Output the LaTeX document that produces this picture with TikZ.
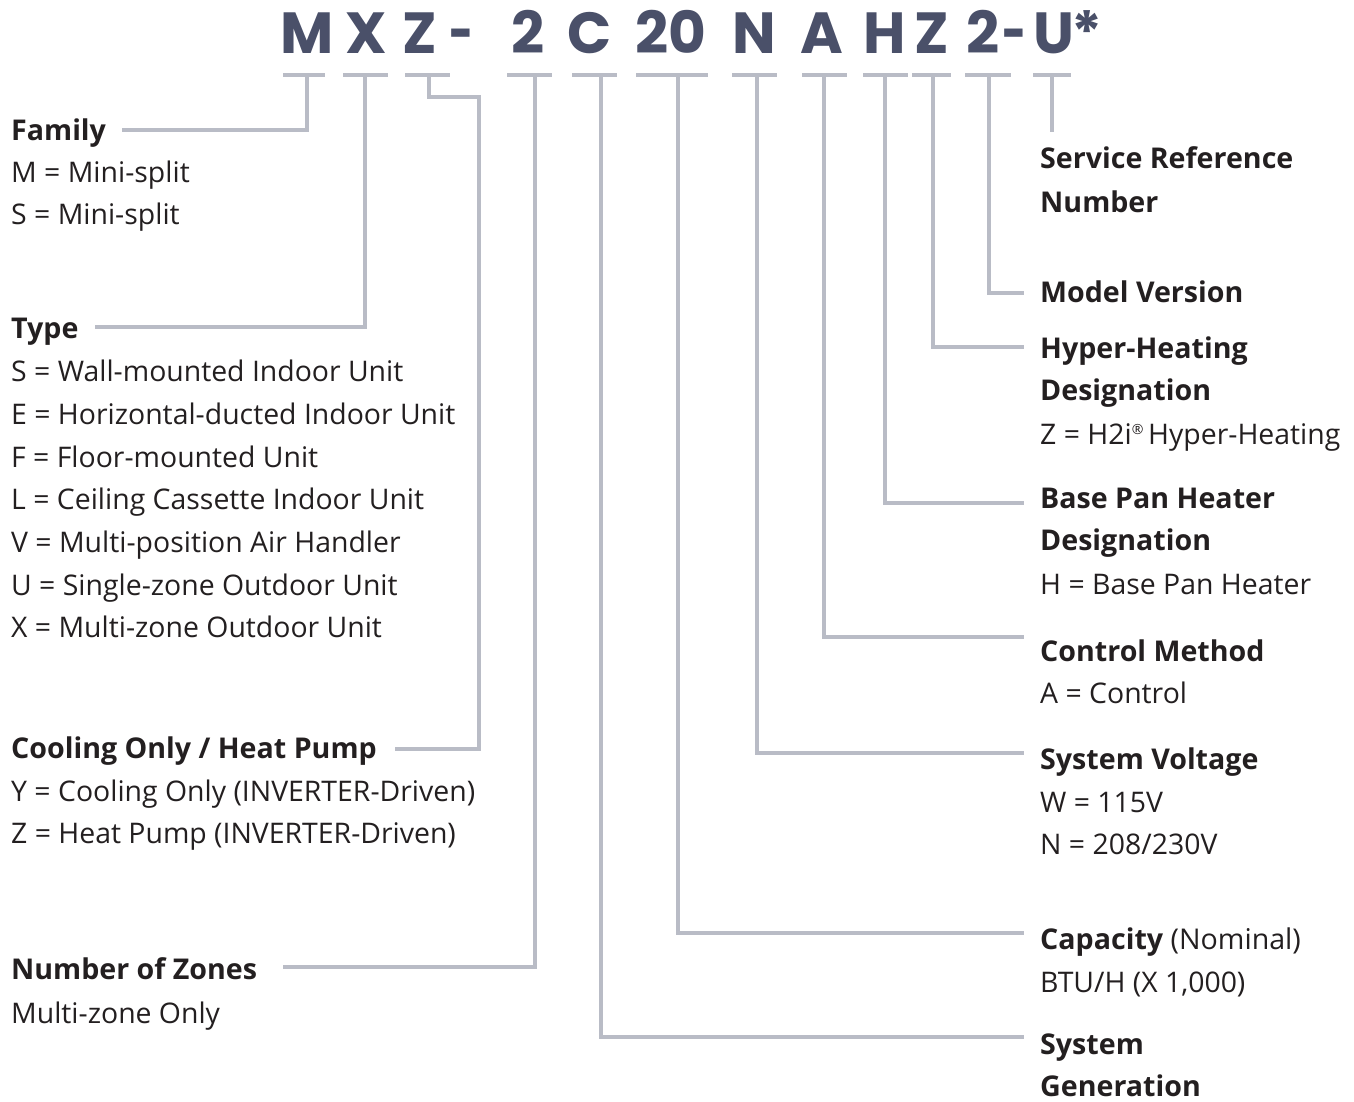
\documentclass[tikz,border=0pt]{standalone}
\usepackage{fontspec}
\usepackage{graphicx}
\setmainfont{Open Sans}
\newfontfamily\titlefam{Poppins}
\definecolor{txt}{HTML}{231F20}
\definecolor{ttlc}{HTML}{4A5069}
\definecolor{linec}{HTML}{B9BCC6}
\newcommand{\bodyf}{\fontsize{28.4}{28.4}\selectfont}
\newcommand{\headf}{\fontsize{28.6}{28.6}\selectfont\bfseries}
\newcommand{\ttlf}{\titlefam\fontsize{58}{58}\selectfont\bfseries}
\newcommand{\ttldash}{\scalebox{0.72}[1]{-}}
\tikzset{
  lbl/.style={anchor=base west, inner sep=0pt, text=txt, font=\bodyf},
  hd/.style={anchor=base west, inner sep=0pt, text=txt, font=\headf},
  ttl/.style={anchor=base, inner sep=0pt, text=ttlc, font=\ttlf},
  bar/.style={draw=linec, line width=3.5pt},
  conn/.style={draw=linec, line width=3.5pt},
}
\begin{document}
\begin{tikzpicture}[x=1pt,y=-1pt]
\useasboundingbox (0,0) rectangle (1354,1101);
% title letters
\node[ttl] (tM) at (307,53) {M};
\node[ttl] (tX) at (366,53) {X};
\node[ttl] (tZ) at (420,53) {Z};
\node[ttl] (td1) at (462,53) {\ttldash};
\node[ttl] (t2) at (528,53) {2};
\node[ttl] (tC) at (590,53) {C};
\node[ttl] (t20) at (671,53) {20};
\node[ttl] (tN) at (754,53) {N};
\node[ttl] (tA) at (822,53) {A};
\node[ttl] (tH) at (885,53) {H};
\node[ttl] (tZb) at (932,53) {Z};
\node[ttl] (t2b) at (983,53) {2};
\node[ttl] (td2) at (1015,53) {\ttldash};
\node[ttl] (tU) at (1054,53) {U};
\node[ttl] (tst) at (1087,53) {*};
% underline bars
\draw[bar] (283,75) -- (325,75);
\draw[bar] (343,75) -- (388,75);
\draw[bar] (405,75) -- (450,75);
\draw[bar] (507,75) -- (552,75);
\draw[bar] (572,75) -- (617,75);
\draw[bar] (636,75) -- (708,75);
\draw[bar] (732,75) -- (777,75);
\draw[bar] (802,75) -- (847,75);
\draw[bar] (863,75) -- (908,75);
\draw[bar] (912,75) -- (951,75);
\draw[bar] (965,75) -- (1011,75);
\draw[bar] (1033,75) -- (1071,75);
\coordinate (uM) at (307,75);
\coordinate (uX) at (365,75);
\coordinate (uZ) at (429,75);
\coordinate (u2) at (535,75);
\coordinate (uC) at (601,75);
\coordinate (u20) at (678,75);
\coordinate (uN) at (757,75);
\coordinate (uA) at (824,75);
\coordinate (uH) at (885,75);
\coordinate (uZb) at (933,75);
\coordinate (u2b) at (989,75);
\coordinate (uU) at (1052,75);
% left labels
\node[hd] (fam) at (11,140) {Family};
\node[lbl] (fam1) at (11,182) {M = Mini-split};
\node[lbl] (fam2) at (11,224) {S = Mini-split};
\node[hd] (typ) at (11,338) {Type};
\node[lbl] (typ1) at (11,381) {S = Wall-mounted Indoor Unit};
\node[lbl] (typ2) at (11,424) {E = Horizontal-ducted Indoor Unit};
\node[lbl] (typ3) at (11,467) {F = Floor-mounted Unit};
\node[lbl] (typ4) at (11,509) {L = Ceiling Cassette Indoor Unit};
\node[lbl] (typ5) at (11,552) {V = Multi-position Air Handler};
\node[lbl] (typ6) at (11,595) {U = Single-zone Outdoor Unit};
\node[lbl] (typ7) at (11,637) {X = Multi-zone Outdoor Unit};
\node[hd] (coo) at (11,758) {Cooling Only / Heat Pump};
\node[lbl] (coo1) at (11,801) {Y = Cooling Only (INVERTER-Driven)};
\node[lbl] (coo2) at (11,843) {Z = Heat Pump (INVERTER-Driven)};
\node[hd] (zon) at (11,979) {Number of Zones};
\node[lbl] (zon1) at (11,1023) {Multi-zone Only};
% right labels
\node[hd] (srv) at (1040,168) {Service Reference};
\node[hd] (srv2) at (1040,212) {Number};
\node[hd] (mod) at (1040,302) {Model Version};
\node[hd] (hyp) at (1040,358) {Hyper-Heating};
\node[hd] (hyp2) at (1040,400) {Designation};
\node[lbl] (hyp3) at (1040,444) {Z = H2i{\fontsize{14}{14}\selectfont\raisebox{10pt}{®}}\,Hyper-Heating};
\node[hd] (bph) at (1040,508) {Base Pan Heater};
\node[hd] (bph2) at (1040,550) {Designation};
\node[lbl] (bph3) at (1040,594) {H = Base Pan Heater};
\node[hd] (ctl) at (1040,661) {Control Method};
\node[lbl] (ctl1) at (1040,703) {A = Control};
\node[hd] (vol) at (1040,769) {System Voltage};
\node[lbl] (vol1) at (1040,812) {W = 115V};
\node[lbl] (vol2) at (1040,854) {N = 208/230V};
\node[hd] (cap) at (1040,949) {Capacity {\mdseries(Nominal)}};
\node[lbl] (cap1) at (1040,992) {BTU/H (X 1,000)};
\node[hd] (gen) at (1040,1054) {System};
\node[hd] (gen2) at (1040,1096) {Generation};
% connector end points
\coordinate (eFam) at (122,130);
\coordinate (eTyp) at (95,327);
\coordinate (eZk) at (479,97);
\coordinate (eCoo) at (395,749);
\coordinate (eZon) at (283,967);
\coordinate (eGen) at (1024,1037);
\coordinate (eCap) at (1024,933);
\coordinate (eVol) at (1024,753);
\coordinate (eCtl) at (1024,637);
\coordinate (eBph) at (1024,503);
\coordinate (eHyp) at (1024,347);
\coordinate (eMod) at (1024,293);
\coordinate (eSrv) at (1052,132);
% connectors
\draw[conn] (uM) |- (eFam);
\draw[conn] (uX) |- (eTyp);
\draw[conn] (uZ) |- (eZk) |- (eCoo);
\draw[conn] (u2) |- (eZon);
\draw[conn] (uC) |- (eGen);
\draw[conn] (u20) |- (eCap);
\draw[conn] (uN) |- (eVol);
\draw[conn] (uA) |- (eCtl);
\draw[conn] (uH) |- (eBph);
\draw[conn] (uZb) |- (eHyp);
\draw[conn] (u2b) |- (eMod);
\draw[conn] (uU) -- (eSrv);
\end{tikzpicture}
\end{document}
